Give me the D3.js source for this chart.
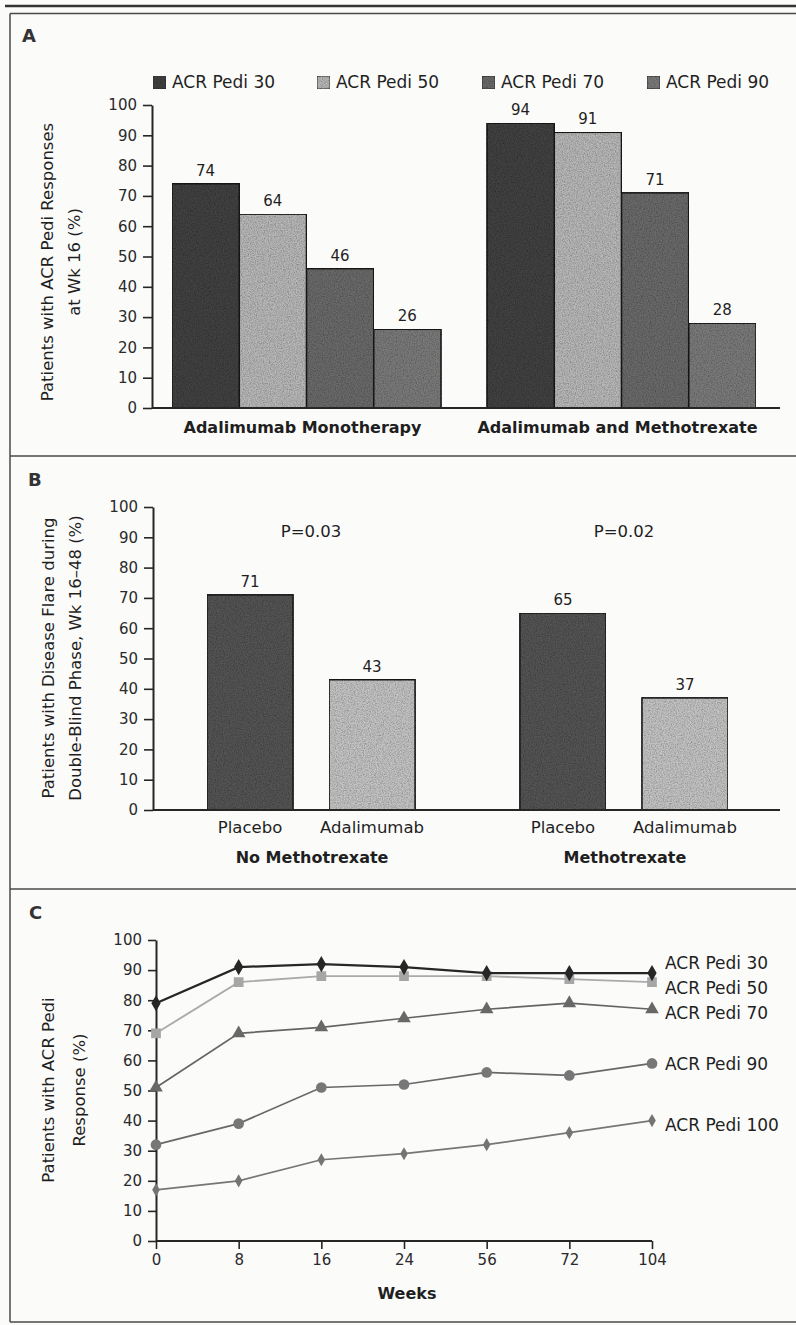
<!DOCTYPE html>
<html>
<head>
<meta charset="utf-8">
<script src="https://cdn.jsdelivr.net/npm/d3@7"></script>
<style>
  html, body { margin: 0; padding: 0; background: #fbfbfa; }
  svg { display: block; }
  text { font-family: "DejaVu Sans", sans-serif; fill: #1f1f1f; }
</style>
</head>
<body>
<svg id="chart" width="796" height="1325"></svg>
<script>
// ---------- DATA ----------
// Panel A
const groupsA = ["Adalimumab Monotherapy", "Adalimumab and Methotrexate"];
const seriesA = ["ACR Pedi 30", "ACR Pedi 50", "ACR Pedi 70", "ACR Pedi 90"];
const monotherapyValues = [74, 64, 46, 26];
const methotrexateValues = [94, 91, 71, 28];
const yTicksA = [0, 10, 20, 30, 40, 50, 60, 70, 80, 90, 100];

// Panel B
const groupsB = ["No Methotrexate", "Methotrexate"];
const armsB = ["Placebo", "Adalimumab"];
const noMtxFlare = [71, 43];
const mtxFlare = [65, 37];
const pValuesB = ["P=0.03", "P=0.02"];
const yTicksB = [0, 10, 20, 30, 40, 50, 60, 70, 80, 90, 100];

// Panel C
const weeks = ["0", "8", "16", "24", "56", "72", "104"];
const seriesC = ["ACR Pedi 30", "ACR Pedi 50", "ACR Pedi 70", "ACR Pedi 90", "ACR Pedi 100"];
const acr30 = [79, 91, 92, 91, 89, 89, 89];
const acr50 = [69, 86, 88, 88, 88, 87, 86];
const acr70 = [51, 69, 71, 74, 77, 79, 77];
const acr90 = [32, 39, 51, 52, 56, 55, 59];
const acr100 = [17, 20, 27, 29, 32, 36, 40];
const yTicksC = [0, 10, 20, 30, 40, 50, 60, 70, 80, 90, 100];

// ---------- STYLE ----------
const svg = d3.select("#chart");
const ink = "#262626";
const barColorsA = ["#434343", "#b7b7b7", "#6a6a6a", "#7a7a7a"];
const barColorsB = ["#545454", "#c3c3c3"];

// grain filter to mimic print texture
const defs = svg.append("defs");
const f = defs.append("filter").attr("id", "grain").attr("x", 0).attr("y", 0).attr("width", 1).attr("height", 1);
f.append("feTurbulence").attr("type", "fractalNoise").attr("baseFrequency", 0.85).attr("numOctaves", 2).attr("seed", 4).attr("result", "n");
f.append("feColorMatrix").attr("in", "n").attr("type", "matrix")
  .attr("values", "0 0 0 0 0  0 0 0 0 0  0 0 0 0 0  1.0 0 0 0 -0.35").attr("result", "na");
f.append("feComposite").attr("in", "na").attr("in2", "SourceGraphic").attr("operator", "in").attr("result", "nc");
const fm = f.append("feMerge");
fm.append("feMergeNode").attr("in", "SourceGraphic");
fm.append("feMergeNode").attr("in", "nc");

// ---------- FRAME ----------
svg.append("line").attr("x1", 5).attr("x2", 796).attr("y1", 6).attr("y2", 6)
  .attr("stroke", "#333").attr("stroke-width", 2.5);
const frame = svg.append("g").attr("stroke", "#4a4a4a").attr("stroke-width", 1.5).attr("fill", "none");
frame.append("line").attr("x1", 10).attr("x2", 796).attr("y1", 13.5).attr("y2", 13.5);
frame.append("line").attr("x1", 10).attr("x2", 10).attr("y1", 13.5).attr("y2", 1322);
frame.append("line").attr("x1", 10).attr("x2", 796).attr("y1", 456).attr("y2", 456);
frame.append("line").attr("x1", 10).attr("x2", 796).attr("y1", 889).attr("y2", 889);
frame.append("line").attr("x1", 10).attr("x2", 796).attr("y1", 1322).attr("y2", 1322);

function panelLetter(t, x, y) {
  svg.append("text").attr("x", x).attr("y", y).text(t)
    .attr("font-size", 18).attr("font-weight", "bold").style("fill", "#333");
}
panelLetter("A", 22, 42);
panelLetter("B", 28, 486);
panelLetter("C", 29, 919);

function yLabel(lines, xs, cy) {
  lines.forEach((l, i) => {
    svg.append("text")
      .attr("transform", `translate(${xs[i]},${cy}) rotate(-90)`)
      .attr("text-anchor", "middle").attr("font-size", 16.5).text(l);
  });
}

function styleAxis(g, fs) {
  g.selectAll(".domain").attr("stroke", ink).attr("stroke-width", 2);
  g.selectAll(".tick line").attr("stroke", ink).attr("stroke-width", 1.6);
  g.selectAll(".tick text").attr("font-size", fs).attr("font-family", "DejaVu Sans").style("fill", "#2a2a2a");
}

// ---------- PANEL A ----------
(function () {
  const y = d3.scaleLinear().domain([0, 100]).range([408, 105]);
  const x0 = d3.scaleBand().domain(groupsA).range([172, 756]).paddingInner(0.146).paddingOuter(0);
  const x1 = d3.scaleBand().domain(seriesA).range([0, x0.bandwidth()]).padding(0);
  const color = d3.scaleOrdinal().domain(seriesA).range(barColorsA);
  const valuesByGroup = [monotherapyValues, methotrexateValues];

  // legend
  const legendX = [153, 317, 482, 647];
  const lg = svg.append("g");
  seriesA.forEach((s, i) => {
    lg.append("rect").attr("x", legendX[i]).attr("y", 76).attr("width", 13).attr("height", 13)
      .attr("fill", color(s)).attr("stroke", "#333").attr("stroke-width", 1).attr("filter", "url(#grain)");
    lg.append("text").attr("x", legendX[i] + 19).attr("y", 88).attr("font-size", 17).text(s);
  });

  const gBars = svg.append("g");
  groupsA.forEach((g, gi) => {
    seriesA.forEach((s, si) => {
      const v = valuesByGroup[gi][si];
      const bx = x0(g) + x1(s);
      gBars.append("rect")
        .attr("x", bx).attr("y", y(v)).attr("width", x1.bandwidth()).attr("height", y(0) - y(v))
        .attr("fill", color(s)).attr("stroke", "#1e1e1e").attr("stroke-width", 1.6)
        .attr("filter", "url(#grain)");
      gBars.append("text").attr("x", bx + x1.bandwidth() / 2).attr("y", y(v) - 8)
        .attr("text-anchor", "middle").attr("font-size", 15).text(v);
    });
    svg.append("text").attr("x", x0(g) + x0.bandwidth() / 2 - 4).attr("y", 433)
      .attr("text-anchor", "middle").attr("font-size", 16).attr("font-weight", "bold").text(g);
  });

  const ax = svg.append("g").attr("transform", "translate(152,0)")
    .call(d3.axisLeft(y).tickValues(yTicksA).tickSize(9).tickPadding(6).tickSizeOuter(0));
  styleAxis(ax, 15);
  svg.append("line").attr("x1", 152).attr("x2", 780).attr("y1", 408).attr("y2", 408)
    .attr("stroke", ink).attr("stroke-width", 2);

  yLabel(["Patients with ACR Pedi Responses", "at Wk 16 (%)"], [53, 80], 262);
})();

// ---------- PANEL B ----------
(function () {
  const y = d3.scaleLinear().domain([0, 100]).range([810, 507]);
  const x0 = d3.scaleBand().domain(groupsB).range([207, 728]).paddingInner(0.335).paddingOuter(0);
  const x1 = d3.scaleBand().domain(armsB).range([0, x0.bandwidth()]).paddingInner(0.295).paddingOuter(0);
  const color = d3.scaleOrdinal().domain(armsB).range(barColorsB);
  const valuesByGroup = [noMtxFlare, mtxFlare];

  groupsB.forEach((g, gi) => {
    armsB.forEach((a, ai) => {
      const v = valuesByGroup[gi][ai];
      const bx = x0(g) + x1(a);
      svg.append("rect")
        .attr("x", bx).attr("y", y(v)).attr("width", x1.bandwidth()).attr("height", y(0) - y(v))
        .attr("fill", color(a)).attr("stroke", "#1e1e1e").attr("stroke-width", 1.6)
        .attr("filter", "url(#grain)");
      svg.append("text").attr("x", bx + x1.bandwidth() / 2).attr("y", y(v) - 8)
        .attr("text-anchor", "middle").attr("font-size", 15).text(v);
      svg.append("text").attr("x", bx + x1.bandwidth() / 2).attr("y", 833)
        .attr("text-anchor", "middle").attr("font-size", 16.5).text(a);
    });
    const cx = x0(g) + x0.bandwidth() / 2;
    svg.append("text").attr("x", cx + 1).attr("y", 863)
      .attr("text-anchor", "middle").attr("font-size", 16).attr("font-weight", "bold").text(g);
    svg.append("text").attr("x", cx).attr("y", y(90))
      .attr("text-anchor", "middle").attr("font-size", 16.5).text(pValuesB[gi]);
  });

  const ax = svg.append("g").attr("transform", "translate(153,0)")
    .call(d3.axisLeft(y).tickValues(yTicksB).tickSize(9).tickPadding(6).tickSizeOuter(0));
  styleAxis(ax, 15);
  svg.append("line").attr("x1", 153).attr("x2", 780).attr("y1", 810).attr("y2", 810)
    .attr("stroke", ink).attr("stroke-width", 2);

  yLabel(["Patients with Disease Flare during", "Double-Blind Phase, Wk 16\u201348 (%)"], [54, 81], 658);
})();

// ---------- PANEL C ----------
(function () {
  const y = d3.scaleLinear().domain([0, 100]).range([1241, 940]);
  const x = d3.scalePoint().domain(weeks).range([156, 652]);
  const data = [acr30, acr50, acr70, acr90, acr100];
  const lineColors = ["#262626", "#aaaaaa", "#646464", "#686868", "#767676"];
  const markColors = ["#262626", "#a6a6a6", "#686868", "#777777", "#747474"];
  const lineWidths = [2.3, 1.9, 1.7, 1.7, 1.7];
  const symbols = [d3.symbolDiamond, d3.symbolSquare, d3.symbolTriangle, d3.symbolCircle, d3.symbolDiamond];
  const symSizes = [75, 95, 80, 90, 50];
  const labelNudge = [-10, 6, 4, 1, 4];

  const ax = svg.append("g").attr("transform", "translate(156,0)")
    .call(d3.axisLeft(y).tickValues(yTicksC).tickSize(8).tickPadding(6).tickSizeOuter(0));
  styleAxis(ax, 15);
  const axb = svg.append("g").attr("transform", "translate(0,1241)")
    .call(d3.axisBottom(x).tickSize(8).tickPadding(5).tickSizeOuter(0));
  styleAxis(axb, 15);
  axb.select(".domain").attr("d", `M${x(weeks[0])},0H${x(weeks[weeks.length - 1])}`);

  const line = d3.line().x((d, i) => x(weeks[i])).y(d => y(d));
  // draw from bottom series to top so ACR Pedi 30 is on top
  for (let k = data.length - 1; k >= 0; k--) {
    const vals = data[k];
    svg.append("path").datum(vals).attr("d", line)
      .attr("fill", "none").attr("stroke", lineColors[k]).attr("stroke-width", lineWidths[k]);
    const sym = d3.symbol().type(symbols[k]).size(symSizes[k]);
    svg.append("g").selectAll("path").data(vals).join("path")
      .attr("transform", (d, i) => `translate(${x(weeks[i])},${y(d)})`)
      .attr("d", sym).attr("fill", markColors[k]);
    svg.append("text").attr("x", x("104") + 13).attr("y", y(vals[vals.length - 1]) + labelNudge[k] + 6)
      .attr("font-size", 17).text(seriesC[k]);
  }

  svg.append("text").attr("x", 407).attr("y", 1299).attr("text-anchor", "middle")
    .attr("font-size", 16).attr("font-weight", "bold").text("Weeks");

  yLabel(["Patients with ACR Pedi", "Response (%)"], [54, 85], 1090);
})();
</script>
</body>
</html>
